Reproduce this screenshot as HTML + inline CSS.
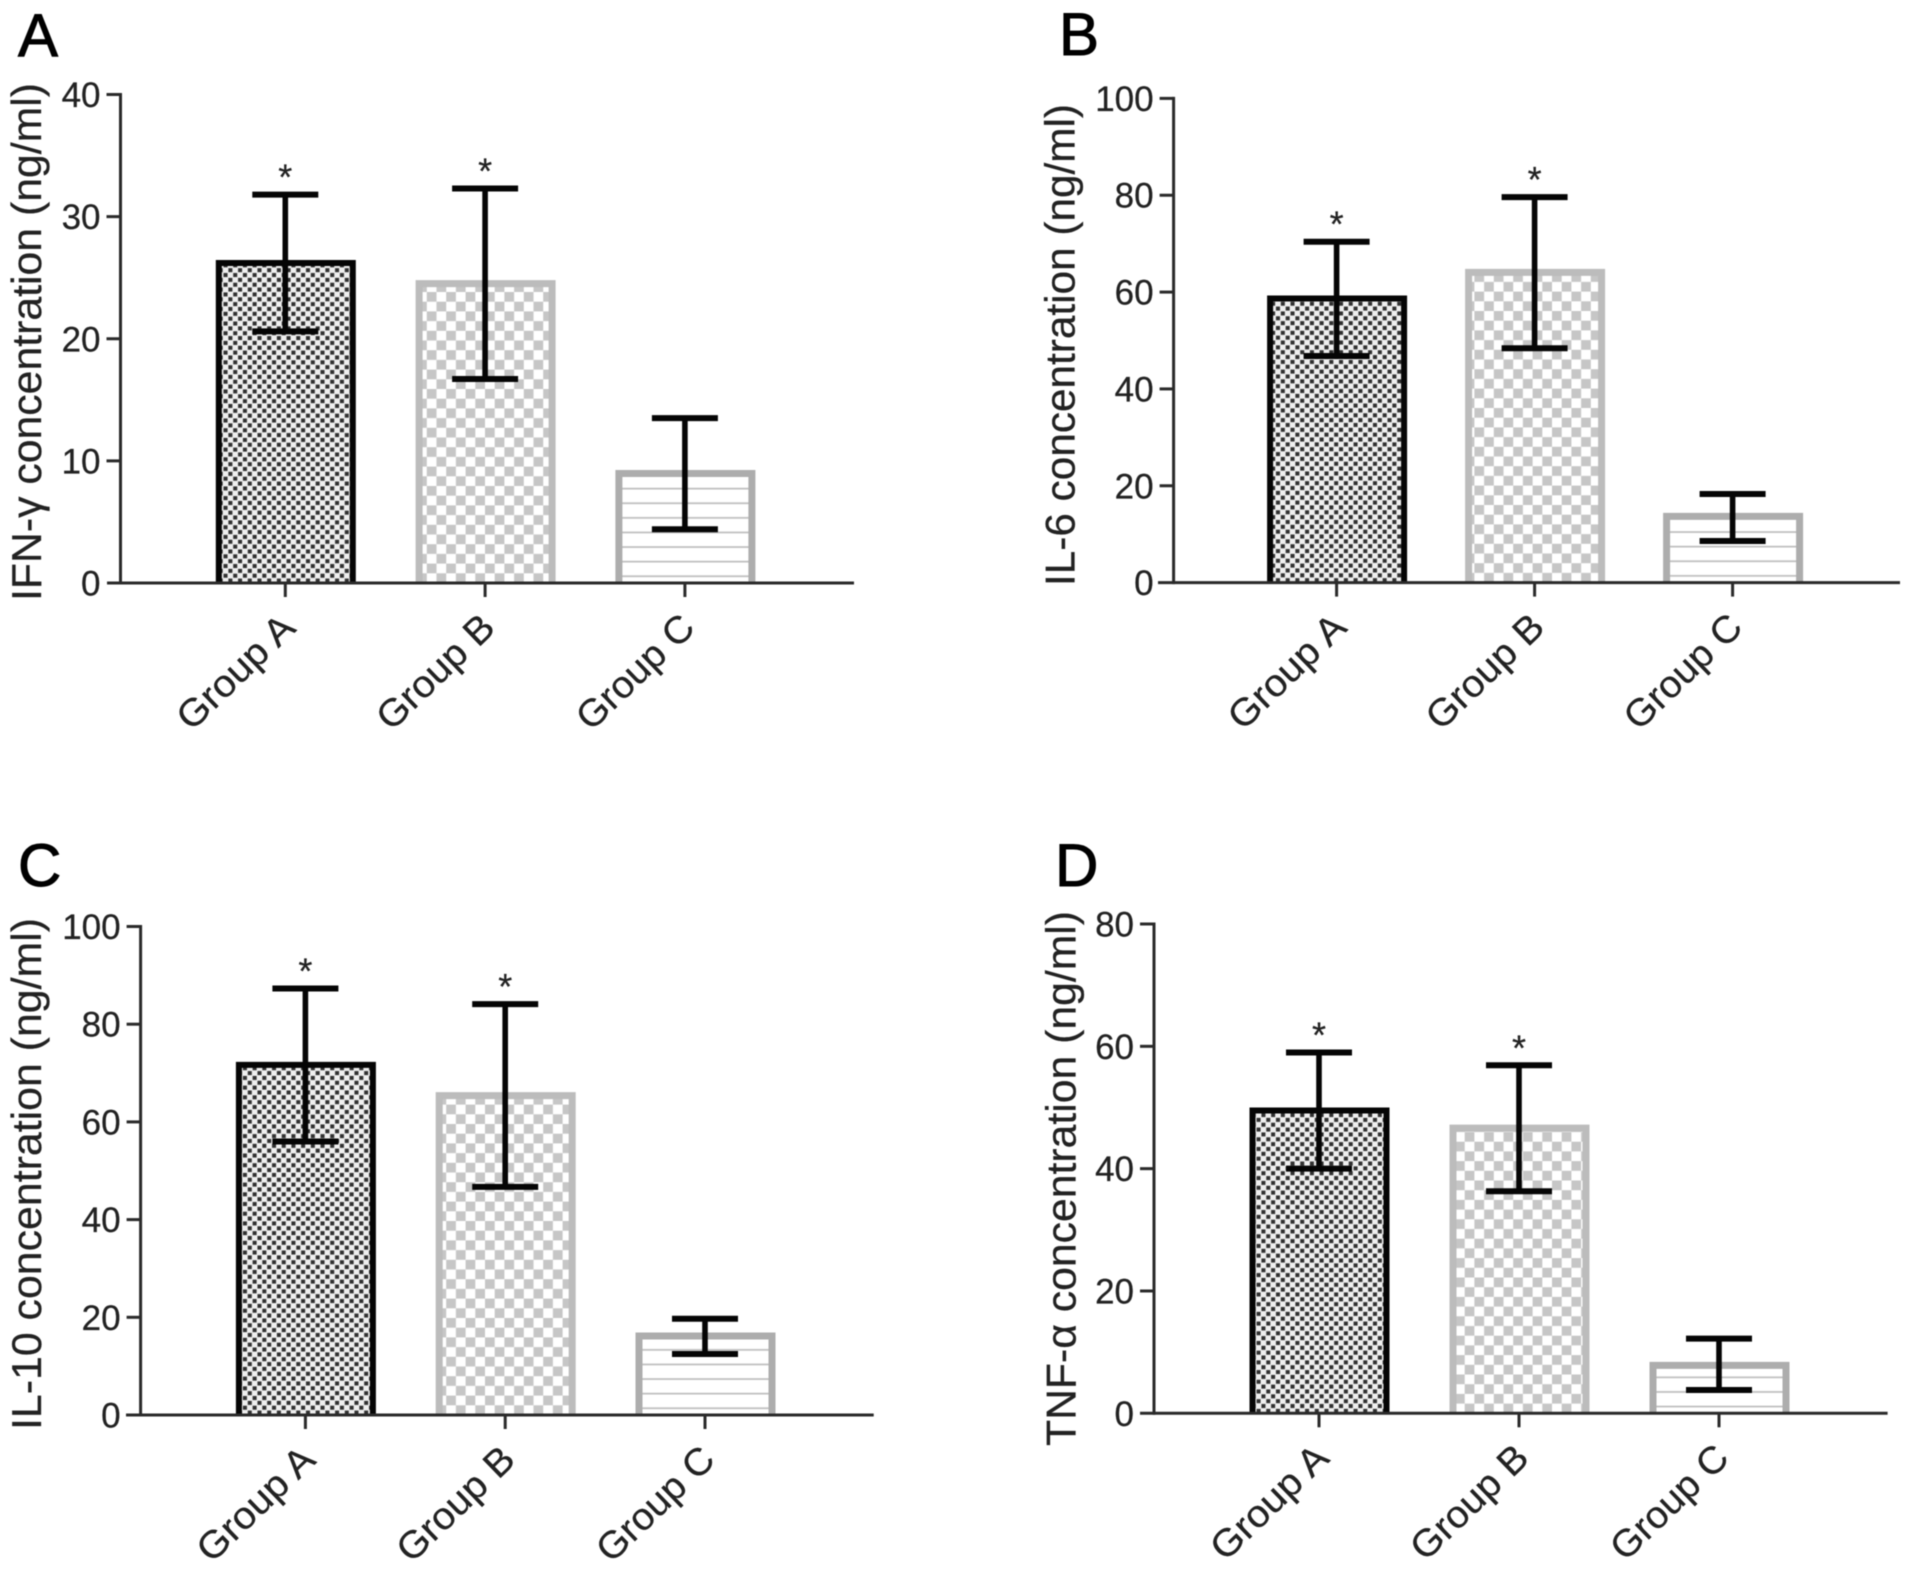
<!DOCTYPE html>
<html lang="en">
<head>
<meta charset="utf-8">
<title>Cytokine concentrations by group</title>
<style>
html,body{margin:0;padding:0;background:#fff;}
#figure{display:block;width:1913px;height:1572px;filter:blur(0.6px);background:#fff;}
text{font-family:"Liberation Sans","DejaVu Sans",sans-serif;fill:#222;stroke:#222;stroke-width:0.25px;}
</style>
</head>
<body>
<svg id="figure" xmlns="http://www.w3.org/2000/svg" width="1913" height="1572" viewBox="0 0 1913 1572"></svg>
<script>
const categories = ['Group A', 'Group B', 'Group C'];

const ifnTicks = [0, 10, 20, 30, 40];
const ifnMeans = [26.45, 24.8, 9.25];
const ifnUpper = [31.8, 32.3, 13.5];
const ifnLower = [20.6, 16.7, 4.4];
const ifnStars = ['*', '*', ''];

const il6Ticks = [0, 20, 40, 60, 80, 100];
const il6Means = [59.3, 64.8, 14.4];
const il6Upper = [70.4, 79.6, 18.3];
const il6Lower = [46.8, 48.4, 8.6];
const il6Stars = ['*', '*', ''];

const il10Ticks = [0, 20, 40, 60, 80, 100];
const il10Means = [72.3, 66.1, 16.9];
const il10Upper = [87.3, 84.1, 19.7];
const il10Lower = [56, 46.7, 12.5];
const il10Stars = ['*', '*', ''];

const tnfTicks = [0, 20, 40, 60, 80];
const tnfMeans = [50, 47.2, 8.4];
const tnfUpper = [59, 56.9, 12.2];
const tnfLower = [40, 36.3, 3.8];
const tnfStars = ['*', '*', ''];

const NS = 'http://www.w3.org/2000/svg';
const svg = document.getElementById('figure');
const defs = document.createElementNS(NS, 'defs');
svg.appendChild(defs);

function make(tag, attrs, parent) {
  const node = document.createElementNS(NS, tag);
  for (const key in attrs) node.setAttribute(key, attrs[key]);
  (parent || svg).appendChild(node);
  return node;
}

function addPatterns(id, base) {
  const dark = make('pattern', {id: id + '-dark', patternUnits: 'userSpaceOnUse', width: 9.7, height: 9.7, patternTransform: 'translate(0,' + base + ')'}, defs);
  make('rect', {width: 9.7, height: 9.7, fill: '#efefef'}, dark);
  make('rect', {x: 0.4, y: 0.4, width: 4.05, height: 4.05, fill: '#303030'}, dark);
  make('rect', {x: 5.25, y: 5.25, width: 4.05, height: 4.05, fill: '#303030'}, dark);
  const light = make('pattern', {id: id + '-light', patternUnits: 'userSpaceOnUse', width: 19.4, height: 19.4, patternTransform: 'translate(0,' + base + ')'}, defs);
  make('rect', {width: 19.4, height: 19.4, fill: '#fff'}, light);
  make('rect', {x: 0, y: 0, width: 9.7, height: 9.7, fill: '#c6c6c6'}, light);
  make('rect', {x: 9.7, y: 9.7, width: 9.7, height: 9.7, fill: '#c6c6c6'}, light);
  const lines = make('pattern', {id: id + '-lines', patternUnits: 'userSpaceOnUse', width: 20, height: 14.6, patternTransform: 'translate(0,' + base + ')'}, defs);
  make('rect', {width: 20, height: 14.6, fill: '#fff'}, lines);
  make('rect', {x: 0, y: 7, width: 20, height: 1.7, fill: '#bdbdbd'}, lines);
}

function drawPanel(p) {
  const g = make('g', {});
  
  

  addPatterns(p.id, p.base);

  const yMax = p.ticks[p.ticks.length - 1];
  const yScale = function (v) { return p.base - (v / yMax) * (p.base - p.top); };
  const xScale = function (i) { return p.firstX + i * p.stepX; };

  const fills = ['-dark', '-light', '-lines'];
  const strokes = ['#050505', '#bcbcbc', '#adadad'];
  const widths = [6, 7, 7];
  const half = 70;

  categories.forEach(function (cat, i) {
    const cx = xScale(i) + 0.5;
    const bw = widths[i];
    const top = yScale(p.means[i]) + bw / 2;
    const left = cx - half + bw / 2;
    const right = cx + half - bw / 2;
    const bar = make('path', {
      d: 'M' + left + ' ' + p.base + 'V' + top + 'H' + right + 'V' + p.base,
      fill: 'url(#' + p.id + fills[i] + ')',
      stroke: strokes[i],
      'stroke-width': bw
    }, g);
    
    
  });

  categories.forEach(function (cat, i) {
    const cx = xScale(i);
    const yu = yScale(p.upper[i]);
    const yl = yScale(p.lower[i]);
    const err = make('path', {
      d: 'M' + cx + ' ' + yu + 'V' + yl,
      stroke: '#050505',
      'stroke-width': 5.6,
      fill: 'none'
    }, g);
    
    
    const caps = make('path', {
      d: 'M' + (cx - 33) + ' ' + yu + 'H' + (cx + 33) + 'M' + (cx - 33) + ' ' + yl + 'H' + (cx + 33),
      stroke: '#050505',
      'stroke-width': 6,
      fill: 'none'
    }, g);
    
    
    if (p.stars[i]) {
      const star = make('text', {x: cx, y: yu - 5, 'font-size': 36, 'text-anchor': 'middle'}, g);
      star.textContent = p.stars[i];
      
      
    }
  });

  const yAxis = make('path', {d: 'M' + p.axisX + ' ' + (p.top - 1.5) + 'V' + (p.base + 1.5), stroke: '#2a2a2a', 'stroke-width': 3, fill: 'none'}, g);
  
  

  const xAxis = make('path', {d: 'M' + p.xStart + ' ' + p.base + 'H' + p.xEnd, stroke: '#2a2a2a', 'stroke-width': 3, fill: 'none'}, g);
  
  

  p.ticks.forEach(function (t) {
    const y = yScale(t);
    if (t !== 0) {
      const tick = make('path', {d: 'M' + (p.axisX - 14) + ' ' + y + 'H' + p.axisX, stroke: '#2a2a2a', 'stroke-width': 3, fill: 'none'}, g);
      
      
    }
    const label = String(t);
    const lab = make('text', {
      x: p.axisX - 20,
      y: y + 12.5,
      'font-size': 35,
      'text-anchor': 'end'
    }, g);
    lab.textContent = label;
    
    
  });

  categories.forEach(function (cat, i) {
    const cx = xScale(i);
    const tick = make('path', {d: 'M' + cx + ' ' + p.base + 'V' + (p.base + 14), stroke: '#2a2a2a', 'stroke-width': 3, fill: 'none'}, g);
    
    
    const ex = cx + 12;
    const ey = p.base + 47;
    const lab = make('text', {
      x: ex,
      y: ey,
      'font-size': 38,
      'text-anchor': 'end',
      textLength: 147,
      lengthAdjust: 'spacingAndGlyphs',
      transform: 'rotate(-44 ' + ex + ' ' + ey + ')'
    }, g);
    lab.textContent = cat;
    
    
  });

  const title = make('text', {
    x: p.titleX,
    y: p.titleY,
    'font-size': 42,
    'text-anchor': 'middle',
    textLength: p.titleLen,
    lengthAdjust: 'spacingAndGlyphs',
    transform: 'rotate(-90 ' + p.titleX + ' ' + p.titleY + ')'
  }, g);
  title.textContent = p.title;
  
  

  const letter = make('text', {
    x: p.letterX,
    y: p.letterY,
    'font-size': 60
  }, g);
  letter.style.fill = '#000';
  letter.style.stroke = '#000';
  letter.style.strokeWidth = '1px';
  letter.textContent = p.letter;
  
  
}

drawPanel({id: 'a', letter: 'A', letterX: 18, letterY: 56, title: 'IFN-\u03b3 concentration (ng/ml)', titleX: 41, titleY: 342, titleLen: 518,
  ticks: ifnTicks, means: ifnMeans, upper: ifnUpper, lower: ifnLower, stars: ifnStars,
  axisX: 120.5, top: 94.5, base: 583, xStart: 107, xEnd: 854, firstX: 285.3, stepX: 199.8});
drawPanel({id: 'b', letter: 'B', letterX: 1059, letterY: 55, title: 'IL-6 concentration (ng/ml)', titleX: 1074.5, titleY: 345, titleLen: 482,
  ticks: il6Ticks, means: il6Means, upper: il6Upper, lower: il6Lower, stars: il6Stars,
  axisX: 1173.6, top: 98.4, base: 582.6, xStart: 1158, xEnd: 1900, firstX: 1336.6, stepX: 198});
drawPanel({id: 'c', letter: 'C', letterX: 18, letterY: 886, title: 'IL-10 concentration (ng/ml)', titleX: 41, titleY: 1174, titleLen: 512,
  ticks: il10Ticks, means: il10Means, upper: il10Upper, lower: il10Lower, stars: il10Stars,
  axisX: 140.6, top: 926.5, base: 1415, xStart: 126, xEnd: 873.7, firstX: 305.4, stepX: 199.8});
drawPanel({id: 'd', letter: 'D', letterX: 1055, letterY: 886, title: 'TNF-\u03b1 concentration (ng/ml)', titleX: 1075.7, titleY: 1178.5, titleLen: 535,
  ticks: tnfTicks, means: tnfMeans, upper: tnfUpper, lower: tnfLower, stars: tnfStars,
  axisX: 1154, top: 924, base: 1413.3, xStart: 1140, xEnd: 1887.6, firstX: 1319, stepX: 200});
</script>
</body>
</html>
